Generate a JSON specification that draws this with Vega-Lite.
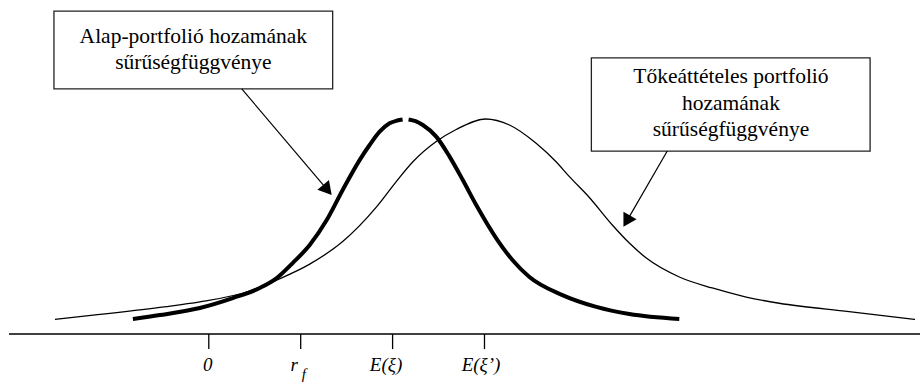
{
  "$schema": "https://vega.github.io/schema/vega-lite/v6.json",
  "width": 921,
  "height": 387,
  "autosize": {"type": "fit", "contains": "padding"},
  "padding": 0,
  "background": "white",
  "config": {"view": {"stroke": null}},
  "datasets": {
    "axis": [{"x": -2.174, "x2": 7.739, "y": 0}],
    "ticks": [
      {"x": 0, "y": 0, "y2": -0.07},
      {"x": 1, "y": 0, "y2": -0.07},
      {"x": 2, "y": 0, "y2": -0.07},
      {"x": 3, "y": 0, "y2": -0.07}
    ],
    "thin": [
      {"x": -1.674, "y": 0.068}, {"x": -1.185, "y": 0.091}, {"x": -0.533, "y": 0.124},
      {"x": -0.098, "y": 0.149}, {"x": 0.446, "y": 0.2}, {"x": 0.739, "y": 0.251},
      {"x": 1.098, "y": 0.325}, {"x": 1.457, "y": 0.43}, {"x": 1.823, "y": 0.59},
      {"x": 2.04, "y": 0.709}, {"x": 2.221, "y": 0.801}, {"x": 2.475, "y": 0.895},
      {"x": 2.692, "y": 0.951}, {"x": 3.011, "y": 1.0}, {"x": 3.272, "y": 0.972},
      {"x": 3.562, "y": 0.887}, {"x": 3.779, "y": 0.801}, {"x": 3.924, "y": 0.732},
      {"x": 4.141, "y": 0.635}, {"x": 4.391, "y": 0.507}, {"x": 4.576, "y": 0.423},
      {"x": 4.761, "y": 0.353}, {"x": 5.12, "y": 0.265}, {"x": 5.478, "y": 0.214},
      {"x": 5.848, "y": 0.172}, {"x": 6.207, "y": 0.143}, {"x": 6.967, "y": 0.104},
      {"x": 7.685, "y": 0.068}
    ],
    "thick": [
      {"seg": "a", "x": -0.826, "y": 0.07}, {"seg": "a", "x": -0.533, "y": 0.088},
      {"seg": "a", "x": -0.098, "y": 0.121}, {"seg": "a", "x": 0.261, "y": 0.167},
      {"seg": "a", "x": 0.554, "y": 0.214}, {"seg": "a", "x": 0.739, "y": 0.26},
      {"seg": "a", "x": 0.913, "y": 0.33}, {"seg": "a", "x": 1.098, "y": 0.414},
      {"seg": "a", "x": 1.283, "y": 0.53}, {"seg": "a", "x": 1.457, "y": 0.67},
      {"seg": "a", "x": 1.641, "y": 0.809}, {"seg": "a", "x": 1.75, "y": 0.879},
      {"seg": "a", "x": 1.859, "y": 0.941}, {"seg": "a", "x": 1.967, "y": 0.98},
      {"seg": "a", "x": 2.05, "y": 0.993}, {"seg": "a", "x": 2.109, "y": 0.998},
      {"seg": "b", "x": 2.174, "y": 0.998}, {"seg": "b", "x": 2.25, "y": 0.99},
      {"seg": "b", "x": 2.329, "y": 0.972}, {"seg": "b", "x": 2.475, "y": 0.918},
      {"seg": "b", "x": 2.62, "y": 0.825}, {"seg": "b", "x": 2.764, "y": 0.716},
      {"seg": "b", "x": 2.91, "y": 0.6}, {"seg": "b", "x": 3.141, "y": 0.437},
      {"seg": "b", "x": 3.304, "y": 0.344}, {"seg": "b", "x": 3.489, "y": 0.265},
      {"seg": "b", "x": 3.848, "y": 0.181}, {"seg": "b", "x": 4.217, "y": 0.126},
      {"seg": "b", "x": 4.576, "y": 0.093}, {"seg": "b", "x": 5.12, "y": 0.07}
    ],
    "boxes": [
      {"x": -1.685, "x2": 1.348, "y": 1.502, "y2": 1.14},
      {"x": 4.163, "x2": 7.196, "y": 1.284, "y2": 0.851}
    ],
    "boxtext": [
      {"x": -0.168, "y": 1.355, "label": "Alap-portfolió hozamának"},
      {"x": -0.168, "y": 1.231, "label": "sűrűségfüggvénye"},
      {"x": 5.682, "y": 1.169, "label": "Tőkeáttételes portfolió"},
      {"x": 5.682, "y": 1.042, "label": "hozamának"},
      {"x": 5.682, "y": 0.922, "label": "sűrűségfüggvénye"}
    ],
    "arrows": [
      {"x": 0.359, "y": 1.14, "x2": 1.291, "y2": 0.67},
      {"x": 4.989, "y": 0.851, "x2": 4.548, "y2": 0.525}
    ],
    "heads": [
      {"x": 1.291, "y": 0.67, "angle": 139.7},
      {"x": 4.548, "y": 0.525, "angle": 210}
    ],
    "ticklabels": [
      {"x": -0.011, "y": -0.172, "label": "0"},
      {"x": 0.93, "y": -0.172, "label": "r"},
      {"x": 1.929, "y": -0.172, "label": "E(ξ)"},
      {"x": 2.962, "y": -0.172, "label": "E(ξ’)"}
    ],
    "subs": [
      {"x": 1.035, "y": -0.207, "label": "f"}
    ]
  },
  "encoding": {
    "x": {"field": "x", "type": "quantitative", "scale": {"domain": [-2.272, 7.739], "nice": false, "zero": false}, "axis": null},
    "y": {"field": "y", "type": "quantitative", "scale": {"domain": [-0.2465, 1.5535], "nice": false, "zero": false}, "axis": null}
  },
  "layer": [
    {
      "data": {"name": "axis"},
      "mark": {"type": "rule", "color": "black", "strokeWidth": 1.5},
      "encoding": {"x2": {"field": "x2"}}
    },
    {
      "data": {"name": "ticks"},
      "mark": {"type": "rule", "color": "black", "strokeWidth": 1.3},
      "encoding": {"y2": {"field": "y2"}}
    },
    {
      "data": {"name": "thin"},
      "mark": {"type": "line", "color": "black", "strokeWidth": 1.3, "interpolate": "monotone"},
      "encoding": {}
    },
    {
      "data": {"name": "thick"},
      "mark": {"type": "line", "color": "black", "strokeWidth": 4, "strokeCap": "butt", "interpolate": "monotone"},
      "encoding": {"detail": {"field": "seg"}}
    },
    {
      "data": {"name": "boxes"},
      "mark": {"type": "rect", "fill": "white", "stroke": "#222", "strokeWidth": 1.3},
      "encoding": {"x2": {"field": "x2"}, "y2": {"field": "y2"}}
    },
    {
      "data": {"name": "boxtext"},
      "mark": {"type": "text", "font": "Liberation Serif", "fontSize": 21.5, "align": "center", "baseline": "alphabetic", "color": "black"},
      "encoding": {"text": {"field": "label"}}
    },
    {
      "data": {"name": "arrows"},
      "mark": {"type": "rule", "color": "black", "strokeWidth": 1.2},
      "encoding": {"x2": {"field": "x2"}, "y2": {"field": "y2"}}
    },
    {
      "data": {"name": "heads"},
      "mark": {"type": "point", "shape": "triangle-up", "filled": true, "size": 230, "color": "black", "opacity": 1},
      "encoding": {"angle": {"field": "angle", "type": "quantitative", "scale": null}}
    },
    {
      "data": {"name": "ticklabels"},
      "mark": {"type": "text", "font": "Liberation Serif", "fontStyle": "italic", "fontSize": 19, "align": "center", "baseline": "alphabetic", "color": "black"},
      "encoding": {"text": {"field": "label"}}
    },
    {
      "data": {"name": "subs"},
      "mark": {"type": "text", "font": "Liberation Serif", "fontStyle": "italic", "fontSize": 15, "align": "center", "baseline": "alphabetic", "color": "black"},
      "encoding": {"text": {"field": "label"}}
    }
  ]
}
